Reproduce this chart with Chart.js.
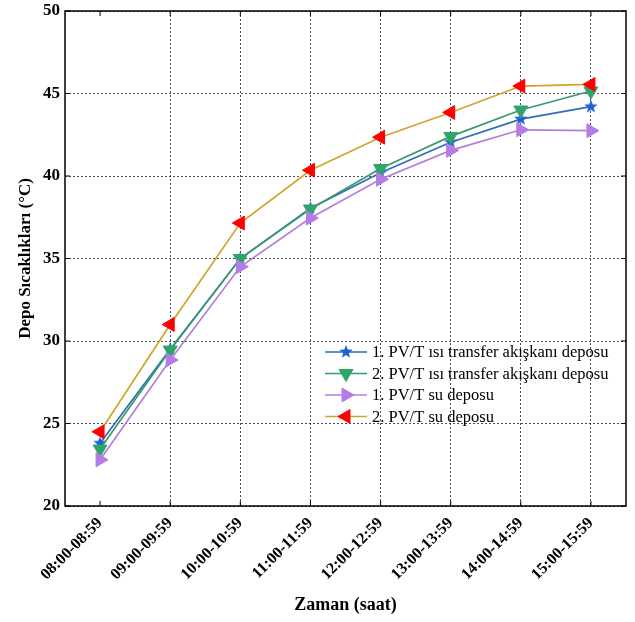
<!DOCTYPE html>
<html>
<head>
<meta charset="utf-8">
<script src="https://cdn.jsdelivr.net/npm/chart.js@4.4.1/dist/chart.umd.min.js"></script>
<style>
  html, body { margin: 0; padding: 0; background: #fff; }
</style>
</head>
<body>
<canvas id="grafik" width="635" height="622"></canvas>
<script>
// --- Veriler ---
const saatler = ["08:00-08:59", "09:00-09:59", "10:00-10:59", "11:00-11:59",
                 "12:00-12:59", "13:00-13:59", "14:00-14:59", "15:00-15:59"];
const pv1Akiskan = [23.8, 29.5, 35.0, 38.05, 40.2, 42.05, 43.45, 44.2];
const pv2Akiskan = [23.45, 29.45, 35.0, 38.0, 40.45, 42.4, 44.0, 45.15];
const pv1Su = [22.8, 28.85, 34.5, 37.45, 39.8, 41.55, 42.8, 42.75];
const pv2Su = [24.5, 31.0, 37.15, 40.35, 42.35, 43.85, 45.45, 45.55];
const etiketler = [
  "1. PV/T ısı transfer akışkanı deposu",
  "2. PV/T ısı transfer akışkanı deposu",
  "1. PV/T su deposu",
  "2. PV/T su deposu",
];
const yMin = 20, yMax = 50, yAdim = 5;

const yazi = '"Liberation Serif", "Times New Roman", serif';

// dolu yıldız işaretçisi (Chart.js 'star' sadece çizgi çiziyor)
function yildizCiz(renk, r) {
  const c = document.createElement("canvas");
  const s = Math.ceil(r * 2) + 2;
  c.width = s; c.height = s;
  const g = c.getContext("2d");
  g.fillStyle = renk;
  g.beginPath();
  for (let i = 0; i < 10; i++) {
    const rr = i % 2 === 0 ? r : r * 0.42;
    const a = -Math.PI / 2 + i * Math.PI / 5;
    g.lineTo(s / 2 + rr * Math.cos(a), s / 2 + rr * Math.sin(a));
  }
  g.closePath();
  g.fill();
  return c;
}
const yildiz = yildizCiz("#1f63d1", 7);

// --- Çerçeve ve içe dönük çentikler ---
const cerceve = {
  id: "cerceve",
  afterDraw(chart) {
    const { ctx, chartArea: a, scales } = chart;
    ctx.save();
    ctx.strokeStyle = "#000";
    ctx.lineWidth = 1.5;
    ctx.setLineDash([]);
    ctx.strokeRect(a.left, a.top, a.right - a.left, a.bottom - a.top);
    ctx.lineWidth = 1;
    ctx.beginPath();
    saatler.forEach((_, i) => {
      const x = scales.x.getPixelForValue(i);
      ctx.moveTo(x, a.bottom); ctx.lineTo(x, a.bottom - 5);
      ctx.moveTo(x, a.top); ctx.lineTo(x, a.top + 5);
    });
    for (let v = yMin; v <= yMax; v += yAdim) {
      const y = scales.y.getPixelForValue(v);
      ctx.moveTo(a.left, y); ctx.lineTo(a.left + 5, y);
      ctx.moveTo(a.right, y); ctx.lineTo(a.right - 5, y);
    }
    ctx.stroke();
    ctx.restore();
  }
};

// --- Grafik içindeki lejant ---
const lejant = {
  id: "lejant",
  afterDatasetsDraw(chart) {
    const { ctx, chartArea: a } = chart;
    const x0 = a.left + 260, y0 = a.top + 341;
    ctx.save();
    ctx.font = "16.5px " + yazi;
    ctx.textBaseline = "middle";
    ctx.textAlign = "left";
    chart.data.datasets.forEach((ds, i) => {
      const y = y0 + i * 21.5;
      ctx.setLineDash([]);
      ctx.strokeStyle = ds.borderColor;
      ctx.lineWidth = ds.borderWidth;
      ctx.beginPath();
      ctx.moveTo(x0, y); ctx.lineTo(x0 + 42, y);
      ctx.stroke();
      ctx.fillStyle = ds.pointBackgroundColor;
      ctx.strokeStyle = ds.pointBorderColor;
      ctx.lineWidth = 1;
      Chart.helpers.drawPoint(ctx, {
        pointStyle: ds.pointStyle,
        rotation: ds.pointRotation || 0,
        radius: ds.pointRadius,
        borderWidth: ds.pointBorderWidth
      }, x0 + 21, y);
      ctx.fillStyle = "#000";
      ctx.fillText(ds.label, x0 + 47, y + 1);
    });
    ctx.restore();
  }
};

const seri = (label, data, cizgi, isaret, stil, don, r, sira) => ({
  label, data,
  borderColor: cizgi,
  borderWidth: 1.7,
  pointStyle: stil,
  pointRotation: don,
  pointRadius: r,
  pointBackgroundColor: isaret,
  pointBorderColor: isaret,
  pointBorderWidth: stil === "triangle" ? 1 : 0,
  tension: 0,
  fill: false,
  order: sira,
});

new Chart(document.getElementById("grafik"), {
  type: "line",
  data: {
    labels: saatler,
    datasets: [
      seri(etiketler[0], pv1Akiskan, "#2f6db5", "#1f63d1", yildiz, 0, 7, 3),
      seri(etiketler[1], pv2Akiskan, "#3a9a6e", "#2fa56a", "triangle", 180, 8, 2),
      seri(etiketler[2], pv1Su, "#b27fdc", "#b57be6", "triangle", 90, 8, 1),
      seri(etiketler[3], pv2Su, "#cfa52e", "#ff0000", "triangle", -90, 8, 0),
    ],
  },
  options: {
    responsive: false,
    animation: false,
    devicePixelRatio: 1,
    layout: { padding: { top: 11, right: 7, left: 0, bottom: 0 } },
    plugins: {
      legend: { display: false },
      tooltip: { enabled: false },
    },
    scales: {
      x: {
        offset: true,
        afterFit: (s) => { s.height = 116; s.paddingLeft = 0; s.paddingRight = 0; },
        grid: {
          offset: false,
          drawTicks: false,
          color: (c) => (c.index === 0 ? "rgba(0,0,0,0)" : "#222"),
          lineWidth: 0.8,
        },
        border: { display: false, dash: [2, 2] },
        ticks: {
          autoSkip: false,
          minRotation: 45,
          maxRotation: 45,
          padding: 8,
          color: "#000",
          font: { family: yazi, size: 16, weight: "bold" },
        },
        title: {
          display: true,
          text: "Zaman (saat)",
          color: "#000",
          padding: { top: 0, bottom: 6 },
          font: { family: yazi, size: 18, weight: "bold" },
        },
      },
      y: {
        min: yMin,
        max: yMax,
        afterFit: (s) => { s.width = 65; s.paddingTop = 0; s.paddingBottom = 0; },
        grid: {
          drawTicks: false,
          color: "#222",
          lineWidth: 0.8,
        },
        border: { display: false, dash: [2, 2] },
        ticks: {
          stepSize: yAdim,
          padding: 5,
          color: "#000",
          font: { family: yazi, size: 17, weight: "bold" },
        },
        title: {
          display: true,
          text: "Depo Sıcaklıkları (°C)",
          color: "#000",
          padding: { top: 15, bottom: 0 },
          font: { family: yazi, size: 17, weight: "bold" },
        },
      },
    },
  },
  plugins: [lejant, cerceve],
});
</script>
</body>
</html>
